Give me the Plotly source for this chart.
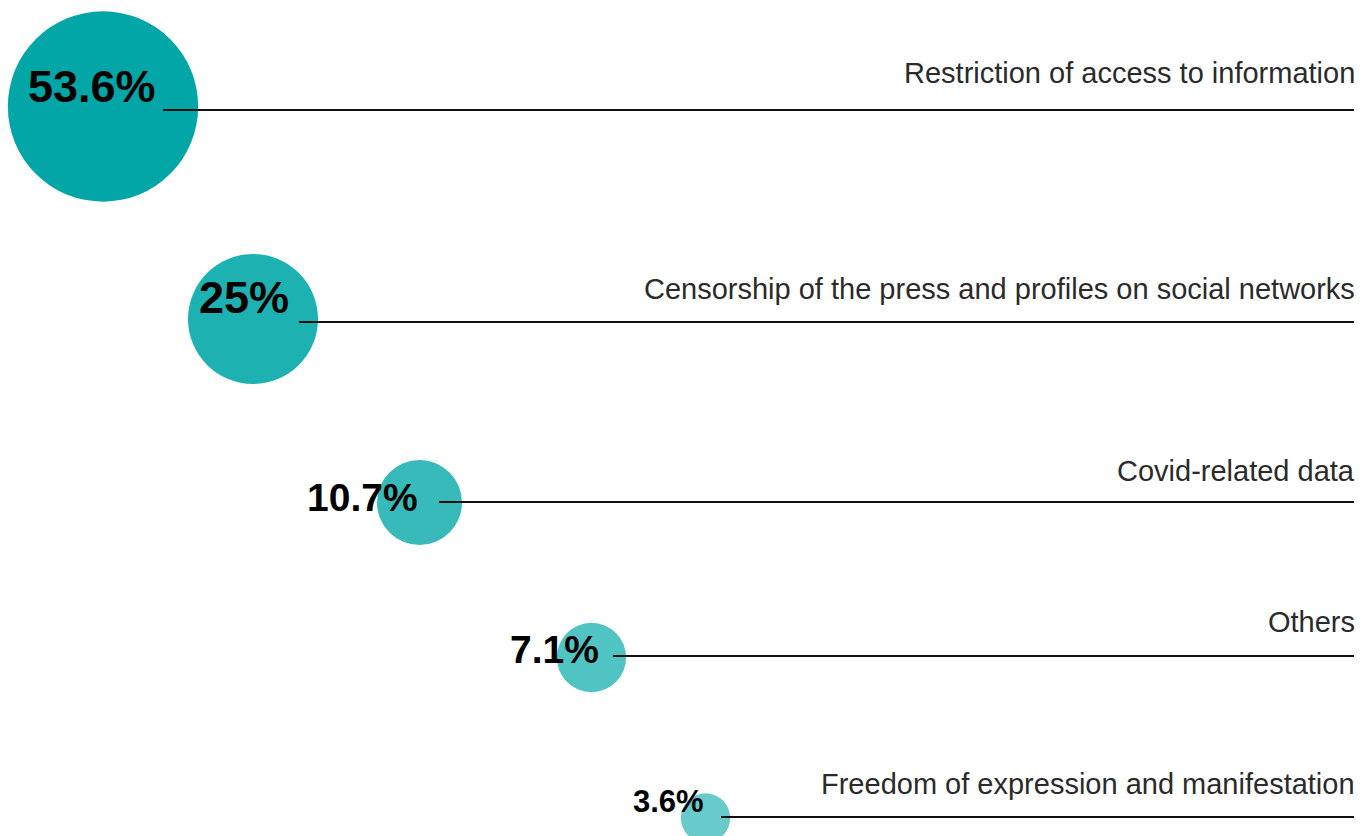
import numpy as np
import plotly.graph_objects as go

# Data
categories = [
    "Restriction of access to information",
    "Censorship of the press and profiles on social networks",
    "Covid-related data",
    "Others",
    "Freedom of expression and manifestation",
]
shares = [53.6, 25, 10.7, 7.1, 3.6]
value_labels = ["53.6%", "25%", "10.7%", "7.1%", "3.6%"]

# Layout (pixel space, y grows downward)
row_y = [110, 322, 502, 656, 817]            # leader line y
bubble_x = [103, 253, 419.5, 591.5, 705.5]
bubble_y = [106.5, 319, 502.5, 657.5, 818]
line_x0 = [163, 299, 439, 613, 721]
line_x1 = 1354
value_right = [157, 290, 419, 600, 705]
value_base = [102, 313, 511, 663, 812]
value_size = [45, 45, 39, 39, 31]
cat_gap = [27, 23, 21, 24, 23]               # baseline distance above line
cat_size = 29
colors = ["#03A6A7", "#1EB1B1", "#38BABA", "#50C3C3", "#69CACB"]

W, H = 1370, 836
fig = go.Figure()

# Area-proportional bubbles
diam = 26 * np.sqrt(np.array(shares))
fig.add_trace(go.Scatter(
    x=bubble_x, y=bubble_y, mode="markers",
    marker=dict(size=diam, sizemode="diameter", color=colors, opacity=1,
                line=dict(width=0)),
    text=categories, hovertemplate="%{text}<extra></extra>",
    showlegend=False, cliponaxis=False,
))

# Leader lines, drawn over the bubbles
for y, x0 in zip(row_y, line_x0):
    fig.add_trace(go.Scatter(
        x=[x0, line_x1], y=[y, y], mode="lines",
        line=dict(color="#111111", width=2), hoverinfo="skip", showlegend=False,
    ))

annotations = []
for i in range(len(shares)):
    fs = value_size[i]
    annotations.append(dict(
        x=value_right[i], y=value_base[i] - 0.35 * fs, xref="x", yref="y",
        text=f"<b>{value_labels[i]}</b>", showarrow=False,
        xanchor="right", yanchor="middle", borderpad=0,
        font=dict(family="Liberation Sans, Arial, sans-serif", size=fs, color="#000000"),
    ))
    annotations.append(dict(
        x=line_x1 + 2, y=row_y[i] - cat_gap[i] - 0.35 * cat_size, xref="x", yref="y",
        text=categories[i], showarrow=False,
        xanchor="right", yanchor="middle", borderpad=0,
        font=dict(family="Liberation Sans, Arial, sans-serif", size=cat_size, color="#2b2b2b"),
    ))

fig.update_layout(
    width=W, height=H,
    margin=dict(l=0, r=0, t=0, b=0),
    paper_bgcolor="white", plot_bgcolor="white",
    xaxis=dict(range=[0, W], visible=False, fixedrange=True),
    yaxis=dict(range=[H, 0], visible=False, fixedrange=True),
    annotations=annotations,
)

fig.write_html("out.html")
